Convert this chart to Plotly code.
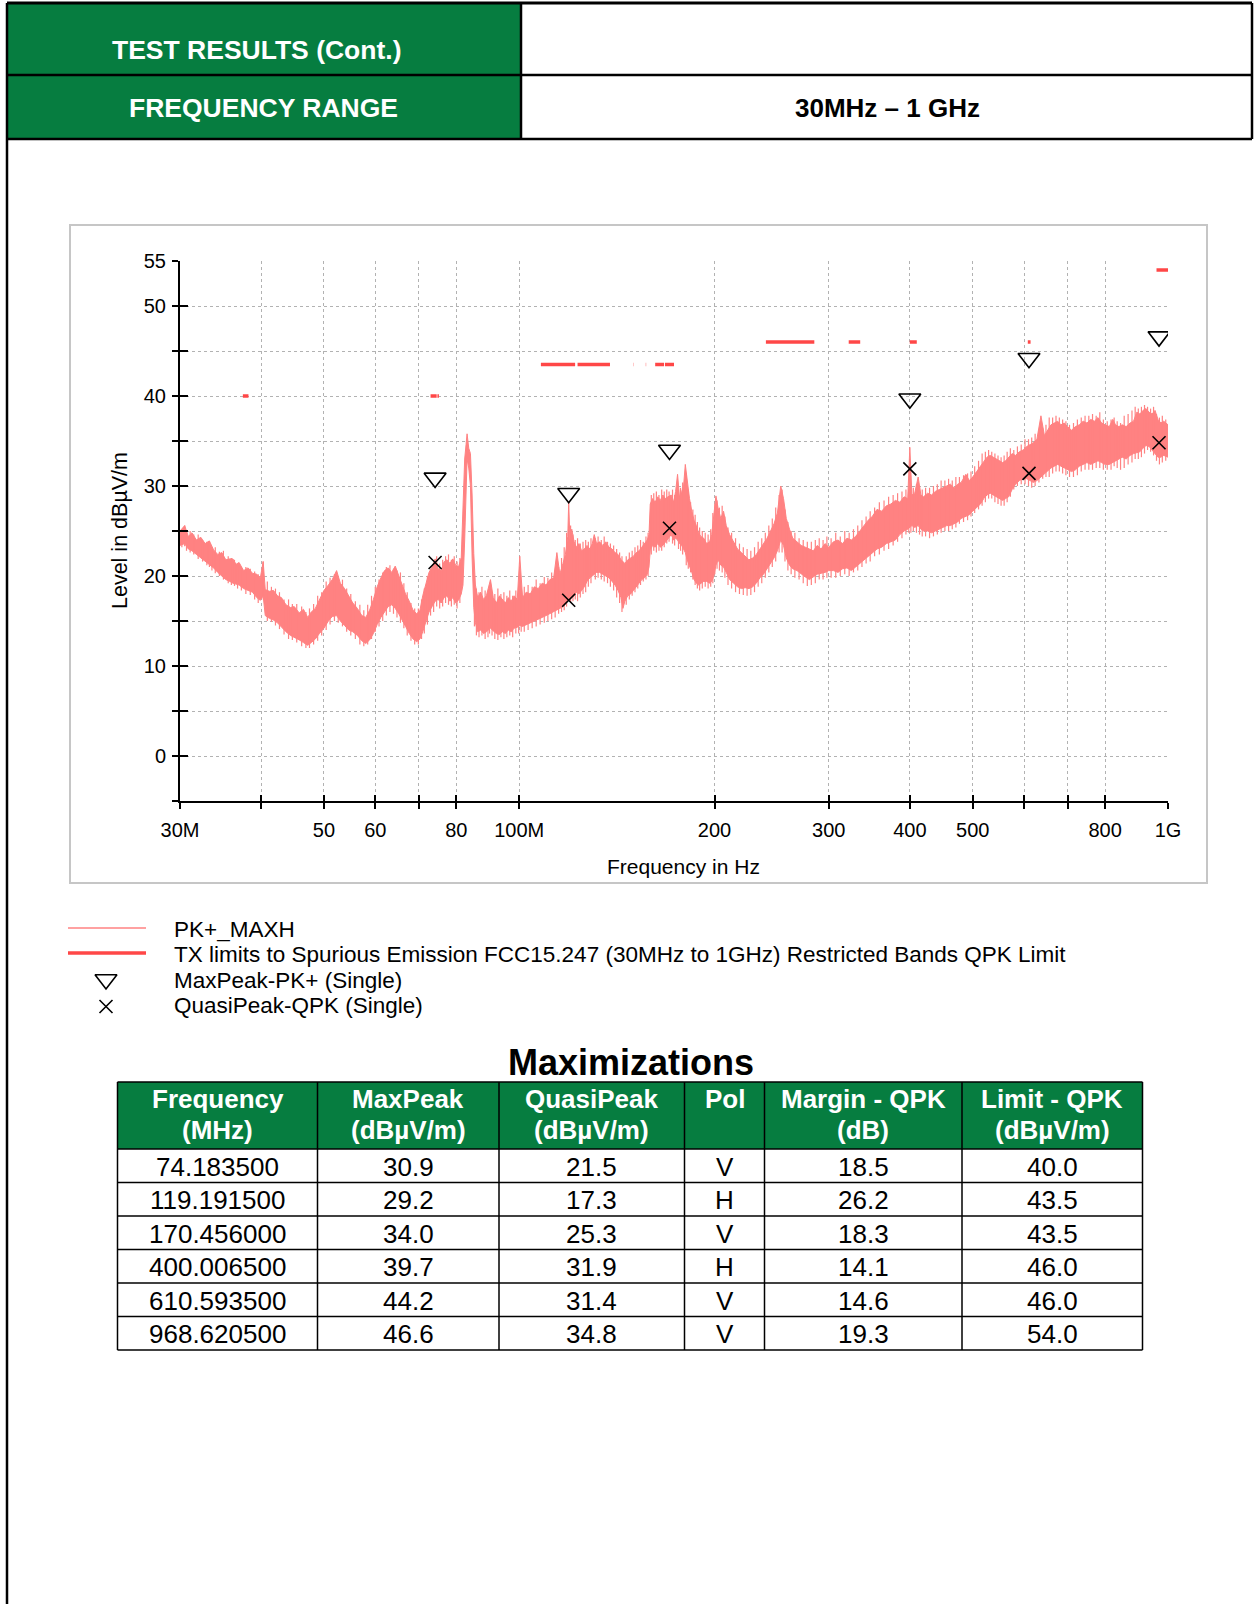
import math
import plotly.graph_objects as go

W, H = 1254, 1604

# ---------------- data ----------------
# PK+_MAXH spectrum envelope (MHz, upper level, lower level in dBuV/m)
pk_freq = [30.0, 30.5, 30.9, 31.3, 31.8, 32.3, 32.8, 33.3, 33.8, 34.3, 34.8, 35.3, 35.8, 36.2, 36.6, 37.0,
           37.6, 38.2, 38.8, 39.4, 39.9, 40.3, 40.6, 41.2, 41.8, 42.4, 43.0, 43.7, 44.4, 45.0, 45.8, 46.5,
           47.2, 47.8, 48.5, 49.2, 50.0, 50.8, 51.5, 52.3, 53.0, 53.8, 54.6, 55.4, 56.3, 57.2, 58.0, 58.8,
           59.6, 60.4, 61.2, 62.0, 62.8, 63.6, 64.4, 65.2, 66.0, 66.8, 67.7, 68.6, 69.5, 70.3, 71.0, 71.8,
           72.6, 73.4, 74.2, 75.0, 75.8, 76.6, 77.4, 78.2, 79.0, 79.8, 80.6, 81.4, 81.9, 82.4, 82.8, 83.1,
           83.6, 84.1, 84.6, 85.1, 85.6, 86.3, 87.2, 88.1, 89.0, 90.3, 91.2, 92.2, 93.2, 94.2, 95.2, 96.2,
           97.2, 98.2, 99.3, 100.2, 101.2, 102.5, 104.0, 105.5, 107.0, 108.5, 110.0, 111.5, 113.0, 114.3,
           115.5, 116.8, 117.8, 118.8, 119.2, 119.7, 120.5, 121.5, 122.5, 123.6, 124.8, 126.0, 127.2, 128.5,
           129.6, 130.5, 131.6, 133.0, 134.5, 136.0, 137.5, 139.0, 140.5, 142.0, 143.5, 144.5, 145.5, 147.0,
           148.5, 150.0, 151.5, 153.0, 154.5, 156.0, 157.5, 158.5, 159.2, 160.5, 162.0, 163.5, 165.0, 166.5,
           168.0, 169.5, 171.5, 173.0, 174.2, 175.4, 176.6, 178.0, 179.2, 180.3, 181.5, 183.0, 184.5, 186.0,
           187.5, 189.0, 190.5, 192.5, 194.5, 196.5, 198.0, 199.5, 201.0, 202.5, 204.5, 206.5, 208.5, 211.0,
           214.0, 217.0, 220.0, 223.0, 226.0, 229.0, 232.0, 235.0, 238.0, 241.0, 244.0, 247.0, 250.0, 253.0,
           255.5, 258.0, 261.0, 264.0, 268.0, 272.0, 276.0, 280.0, 284.0, 288.0, 292.0, 296.0, 300.0, 305.0,
           310.0, 315.0, 320.0, 325.0, 330.0, 335.0, 340.0, 345.0, 350.0, 356.0, 362.0, 368.0, 374.0, 380.0,
           386.0, 392.0, 397.0, 400.0, 403.0, 407.0, 412.0, 416.0, 420.0, 426.0, 432.0, 438.0, 444.0, 450.0,
           456.0, 462.0, 468.0, 474.0, 480.0, 488.0, 494.0, 500.0, 507.0, 514.0, 520.0, 526.0, 532.0, 538.0,
           544.0, 550.0, 556.0, 562.0, 568.0, 575.0, 582.0, 590.0, 598.0, 606.0, 613.0, 620.0, 628.0, 637.0,
           645.0, 652.0, 660.0, 668.0, 676.0, 684.0, 692.0, 700.0, 710.0, 720.0, 730.0, 740.0, 750.0, 760.0,
           770.0, 780.0, 790.0, 800.0, 812.0, 822.0, 830.0, 840.0, 850.0, 862.0, 874.0, 885.0, 895.0, 905.0,
           915.0, 925.0, 935.0, 945.0, 955.0, 965.0, 975.0, 985.0, 1000.0]
pk_hi = [25.0, 25.6, 24.4, 24.8, 24.0, 24.3, 23.6, 23.9, 22.9, 22.4, 22.6, 21.8, 21.9, 21.9, 21.3, 21.5,
         20.6, 20.9, 20.3, 20.2, 19.8, 21.6, 18.5, 18.3, 18.4, 17.8, 17.6, 16.8, 16.5, 16.6, 15.9, 16.3,
         15.4, 16.0, 16.4, 17.4, 18.4, 19.0, 19.6, 20.6, 19.2, 18.6, 17.8, 17.0, 16.4, 15.6, 15.4, 16.2,
         17.4, 18.8, 19.8, 20.6, 20.9, 20.4, 21.1, 20.0, 18.9, 18.0, 17.2, 16.2, 15.8, 16.2, 17.8, 19.2,
         20.4, 21.0, 21.9, 20.8, 20.6, 21.6, 21.8, 21.4, 21.9, 21.2, 21.0, 22.0, 27.0, 33.0, 34.6, 35.8,
         34.2, 33.6, 29.0, 22.5, 19.0, 17.6, 18.2, 17.4, 17.8, 19.6, 17.6, 17.0, 17.8, 17.4, 17.0, 17.6,
         17.2, 17.8, 17.4, 22.2, 17.6, 18.2, 18.0, 18.8, 18.6, 19.2, 19.0, 19.6, 19.8, 22.6,
         20.2, 21.4, 22.4, 24.4, 28.2, 24.0, 25.2, 23.8, 23.2, 23.6, 22.8, 23.0, 23.4, 23.0,
         23.6, 24.6, 23.6, 23.8, 23.4, 23.8, 23.2, 23.0, 22.6, 22.4, 21.8, 21.6, 21.4, 21.8,
         22.0, 22.2, 22.6, 22.8, 23.2, 23.6, 24.0, 24.6, 28.0, 28.6, 28.2, 28.8, 28.4, 29.0,
         28.6, 28.8, 29.0, 28.2, 29.4, 31.3, 28.8, 29.4, 30.0, 32.4, 30.6, 28.6, 27.2, 26.2,
         25.6, 24.8, 24.4, 24.2, 23.6, 23.8, 24.6, 26.6, 28.9, 27.6, 26.4, 27.2, 25.6, 24.6,
         23.8, 23.0, 22.6, 22.2, 21.8, 22.0, 22.4, 23.0, 23.6, 24.2, 25.0, 25.8, 27.0, 30.0,
         28.6, 26.4, 25.2, 24.2, 23.8, 23.4, 23.2, 23.0, 22.8, 23.4, 23.0, 23.6, 23.2, 23.8,
         24.0, 23.6, 24.2, 24.0, 24.4, 25.0, 25.6, 26.2, 26.6, 27.4, 27.2, 27.8, 28.0, 28.4,
         28.2, 28.8, 28.6, 34.3, 29.0, 29.2, 31.0, 29.0, 28.8, 29.2, 29.0, 29.4, 29.6, 29.8,
         30.0, 30.2, 29.8, 30.2, 30.4, 31.3, 30.6, 31.0, 31.6, 32.2, 32.8, 33.2, 33.4, 33.2,
         33.0, 32.8, 32.6, 32.8, 33.2, 33.6, 33.4, 33.8, 34.0, 34.4, 34.6, 34.8, 35.2, 37.8,
         35.6, 36.2, 36.8, 37.0, 37.2, 36.8, 37.0, 36.6, 36.2, 36.6, 36.8, 37.2, 37.0, 37.4,
         37.2, 37.6, 37.0, 36.8, 36.6, 37.4, 36.8, 36.6, 36.8, 36.6, 37.0, 37.2, 38.2, 38.0,
         38.4, 38.6, 38.2, 38.0, 38.4, 37.4, 37.0, 37.2, 36.8]
pk_lo = [23.4, 23.6, 23.0, 22.8, 22.4, 22.0, 21.6, 21.2, 20.9, 20.4, 20.0, 19.6, 19.4, 19.2, 19.1, 19.0,
         18.6, 18.4, 18.2, 17.6, 17.3, 17.8, 15.6, 15.3, 15.1, 14.8, 14.3, 13.8, 13.4, 13.2, 12.9, 12.6,
         12.3, 12.6, 13.0, 13.6, 14.2, 15.0, 15.5, 15.6, 15.0, 14.5, 14.0, 13.8, 13.4, 12.8, 12.5, 12.9,
         13.6, 14.6, 15.4, 16.0, 16.6, 16.8, 16.4, 15.8, 15.0, 14.4, 13.6, 13.0, 12.7, 13.0, 13.8, 14.8,
         16.0, 16.6, 17.2, 17.4, 17.0, 17.6, 17.8, 17.2, 17.6, 17.0, 17.3, 18.0, 19.0, 24.0, 31.0, 33.0,
         32.0, 30.0, 22.0, 16.5, 14.8, 13.8, 14.0, 13.6, 13.8, 14.2, 13.9, 13.6, 13.5, 13.8, 13.6, 14.0,
         13.8, 14.2, 14.3, 14.5, 14.4, 14.6, 14.8, 15.0, 15.2, 15.4, 15.6, 15.8, 16.0, 16.2,
         16.4, 16.6, 16.9, 17.2, 17.4, 17.5, 17.6, 17.8, 18.2, 18.0, 18.4, 18.8, 19.4, 19.8,
         20.0, 20.2, 20.4, 20.4, 20.2, 20.0, 19.8, 19.4, 19.0, 18.4, 17.6, 16.4, 17.2, 17.8,
         18.0, 18.4, 18.8, 19.2, 19.6, 19.8, 20.2, 21.0, 22.8, 23.4, 23.2, 23.6, 23.2, 23.4,
         23.8, 24.2, 24.6, 24.0, 24.2, 24.0, 23.6, 23.4, 23.0, 22.6, 21.8, 21.2, 20.4, 19.6,
         19.2, 19.0, 19.2, 19.4, 19.4, 19.2, 19.4, 20.0, 21.2, 21.8, 21.2, 21.0, 20.4, 19.6,
         19.2, 18.8, 18.6, 18.7, 18.6, 18.8, 19.2, 19.8, 20.2, 20.8, 21.4, 22.0, 22.8, 24.0,
         23.4, 22.0, 21.2, 20.8, 20.6, 20.2, 19.9, 19.6, 19.9, 20.2, 20.3, 20.4, 20.6, 20.6,
         20.4, 20.8, 20.9, 20.6, 21.0, 21.4, 21.8, 22.2, 22.6, 23.0, 23.2, 23.6, 23.8, 24.0,
         24.6, 25.0, 25.2, 25.4, 25.6, 25.4, 25.6, 25.2, 25.0, 25.0, 24.8, 25.0, 25.2, 25.4,
         25.6, 25.6, 25.8, 26.0, 26.4, 26.6, 26.8, 27.2, 27.6, 28.0, 28.6, 29.0, 29.2, 29.0,
         28.8, 28.6, 28.4, 28.6, 28.8, 29.6, 30.2, 30.6, 30.8, 30.8, 30.6, 30.4, 30.6, 31.0,
         31.4, 31.6, 32.0, 32.2, 32.4, 32.2, 32.0, 31.8, 31.6, 31.8, 32.2, 32.4, 32.6, 32.4,
         32.6, 32.8, 32.6, 32.4, 32.4, 32.6, 32.8, 33.0, 33.2, 33.0, 33.4, 33.6, 33.7, 33.8,
         34.2, 34.5, 34.4, 34.0, 33.6, 33.2, 33.2, 33.4, 33.2]

# individual noise excursions of the PK+ trace (MHz, low dBuV/m, high dBuV/m)
noise_freq = [30.2, 30.5, 30.7, 31.1, 31.5, 32.0, 32.5, 33.0, 33.3, 33.6, 34.0, 34.5, 35.0, 35.6, 36.0, 36.4,
              36.8, 37.3, 37.9, 38.5, 39.1, 39.6, 40.3, 40.9, 41.5, 42.1, 42.7, 43.4, 44.1, 44.7, 45.4, 46.2,
              46.9, 47.5, 48.2, 48.9, 49.6, 50.4, 51.1, 51.9, 52.6, 53.4, 54.2, 55.0, 55.9, 56.8, 57.6, 58.4,
              59.2, 60.0, 60.8, 61.6, 62.4, 63.2, 64.0, 64.8, 65.6, 66.4, 67.2, 68.1, 69.0, 69.9, 70.7, 71.4,
              72.2, 73.0, 73.8, 74.6, 75.4, 76.2, 77.0, 77.8, 78.6, 79.4, 80.2, 81.0, 85.3, 85.9, 86.7, 87.6,
              88.6, 89.5, 90.0, 90.8, 91.7, 92.7, 93.7, 94.7, 95.7, 96.7, 97.7, 98.8, 99.8, 100.7, 101.8, 103.2,
              104.7, 106.2, 107.7, 109.3, 110.7, 112.2, 113.6, 115.0, 116.2, 117.3, 118.3, 120.0, 121.0, 122.0,
              123.0, 124.2, 125.4, 126.6, 127.8, 129.0, 131.0, 132.3, 133.8, 135.2, 136.8, 138.2, 139.8, 141.3,
              142.8, 144.0, 146.2, 147.8, 149.3, 150.8, 152.3, 153.8, 155.3, 156.8, 158.0, 159.8, 161.2, 162.7,
              164.2, 165.8, 167.3, 168.8, 170.2, 172.3, 173.6, 176.0, 177.3, 178.6, 180.9, 182.2, 183.7, 185.2,
              186.7, 188.2, 189.7, 191.5, 193.5, 195.5, 197.3, 198.8, 200.2, 201.8, 203.5, 205.5, 207.5, 209.8,
              212.5, 215.5, 218.5, 221.5, 224.5, 227.5, 230.5, 233.5, 236.5, 239.5, 242.5, 245.5, 248.5, 251.5,
              254.2, 256.8, 259.5, 262.5, 266.0, 270.0, 274.0, 278.0, 282.0, 286.0, 290.0, 294.0, 298.0, 302.5,
              307.5, 312.5, 317.5, 322.5, 327.5, 332.5, 337.5, 342.5, 347.5, 353.0, 359.0, 365.0, 371.0, 377.0,
              383.0, 389.0, 394.5, 398.5, 401.5, 405.0, 409.5, 414.0, 418.0, 423.0, 429.0, 435.0, 441.0, 447.0,
              453.0, 459.0, 465.0, 471.0, 477.0, 484.0, 491.0, 497.0, 503.5, 510.5, 517.0, 523.0, 529.0, 535.0,
              541.0, 547.0, 553.0, 559.0, 565.0, 571.5, 578.5, 586.0, 594.0, 602.0, 609.5, 616.5, 624.0, 632.5,
              641.0, 648.5, 656.0, 664.0, 672.0, 680.0, 688.0, 696.0, 705.0, 715.0, 725.0, 735.0, 745.0, 755.0,
              765.0, 775.0, 785.0, 795.0, 806.0, 817.0, 826.0, 835.0, 845.0, 856.0, 868.0, 880.0, 890.0, 900.0,
              910.0, 920.0, 930.0, 940.0, 950.0, 960.0, 970.0, 980.0, 992.0]
noise_lo = [23.2, 23.3, 22.8, 22.6, 22.4, 21.9, 21.6, 21.2, 21.0, 20.6, 20.3, 20.0, 19.6, 19.2, 19.0, 18.9,
            18.6, 18.4, 18.0, 17.9, 17.4, 17.0, 17.4, 15.0, 14.9, 14.5, 14.1, 13.5, 13.0, 12.9, 12.6, 12.2,
            12.0, 12.0, 12.4, 12.8, 13.4, 14.0, 14.6, 15.0, 14.8, 14.4, 13.8, 13.4, 13.0, 12.4, 12.2, 12.4,
            13.0, 13.8, 14.4, 15.0, 15.6, 16.0, 15.8, 15.4, 14.8, 14.2, 13.4, 12.8, 12.4, 12.4, 13.0, 13.6,
            14.6, 15.6, 16.0, 16.6, 16.4, 16.6, 17.0, 16.8, 16.6, 16.8, 16.4, 17.0, 14.4, 13.4, 13.2, 13.4,
            13.0, 13.2, 13.6, 13.4, 13.0, 12.9, 13.2, 13.0, 13.2, 13.4, 13.2, 13.6, 13.6, 13.8, 13.8, 14.0,
            14.2, 14.4, 14.6, 14.8, 15.0, 15.2, 15.4, 15.8, 16.0, 16.2, 16.6, 17.0, 17.2, 17.4,
            17.2, 17.6, 18.0, 18.2, 18.8, 19.2, 19.6, 19.8, 19.6, 19.4, 19.2, 18.8, 18.4, 17.6,
            17.0, 16.0, 16.8, 17.4, 17.8, 18.2, 18.6, 19.0, 19.4, 19.6, 20.0, 22.4, 22.8, 22.6,
            22.8, 22.8, 23.2, 23.6, 23.8, 23.6, 23.4, 23.0, 22.8, 22.4, 21.2, 20.8, 20.4, 19.6,
            19.0, 18.6, 18.4, 18.6, 18.8, 18.6, 18.8, 19.2, 20.2, 20.8, 20.6, 20.4, 19.8, 19.0,
            18.6, 18.2, 18.0, 17.9, 17.8, 17.9, 18.2, 18.8, 19.2, 19.8, 20.4, 21.0, 21.6, 22.6,
            22.6, 21.6, 20.6, 20.2, 19.8, 19.6, 19.2, 18.9, 19.0, 19.2, 19.6, 19.6, 19.8, 19.8,
            19.8, 20.0, 20.2, 20.0, 20.4, 20.6, 21.0, 21.4, 21.6, 22.2, 22.4, 22.8, 23.0, 23.4,
            23.8, 24.2, 24.6, 24.8, 24.8, 25.0, 24.8, 24.6, 24.4, 24.4, 24.2, 24.4, 24.6, 24.8,
            25.0, 25.0, 25.2, 25.4, 25.8, 26.0, 26.2, 26.6, 27.0, 27.4, 27.8, 28.2, 28.6, 28.6,
            28.2, 28.0, 27.8, 27.8, 28.2, 28.8, 29.6, 30.0, 30.2, 30.2, 30.0, 29.8, 30.0, 30.4,
            30.8, 31.0, 31.0, 31.4, 31.6, 31.6, 31.4, 31.2, 31.0, 31.0, 31.2, 31.6, 31.8, 31.8,
            31.8, 32.0, 32.0, 31.8, 31.8, 31.8, 32.2, 32.0, 31.8, 32.0, 32.4, 32.6, 33.0, 33.0,
            33.2, 33.6, 34.0, 33.8, 33.4, 32.8, 32.4, 32.6, 32.8]
noise_hi = [25.2, 25.6, 24.9, 25.0, 24.6, 24.6, 24.0, 23.8, 23.9, 23.2, 23.2, 22.7, 22.8, 22.2, 22.0, 21.8,
            21.2, 21.0, 21.0, 20.8, 20.5, 20.2, 21.6, 19.4, 18.8, 18.6, 18.2, 17.4, 17.4, 16.9, 16.9, 16.6,
            16.0, 16.4, 16.9, 17.8, 18.2, 19.4, 19.8, 20.2, 19.8, 19.6, 18.6, 18.0, 17.2, 16.8, 16.2, 16.8,
            17.8, 18.8, 19.6, 20.4, 21.0, 21.2, 20.8, 20.6, 20.4, 19.2, 18.2, 17.0, 16.4, 16.4, 17.4, 18.6,
            20.0, 20.8, 21.4, 22.2, 21.4, 21.8, 22.2, 22.4, 21.8, 22.2, 21.6, 22.0, 18.8, 18.6, 18.2, 18.8,
            18.4, 18.2, 19.0, 18.2, 18.0, 18.6, 18.0, 18.2, 17.8, 18.4, 17.8, 18.4, 18.0, 18.2, 18.8, 19.0,
            18.8, 19.6, 19.2, 19.9, 19.8, 20.4, 20.6, 21.0, 22.0, 23.2, 24.8, 25.6, 24.6, 24.0,
            24.2, 23.6, 23.8, 24.0, 23.8, 24.2, 24.2, 24.4, 24.0, 24.4, 23.8, 23.6, 23.4, 23.0,
            22.6, 22.2, 22.2, 22.6, 22.8, 23.2, 23.4, 24.0, 23.8, 24.4, 24.8, 29.0, 29.2, 29.4,
            29.0, 29.6, 29.4, 29.6, 29.4, 29.6, 29.0, 29.6, 29.8, 30.4, 31.4, 29.6, 28.2, 27.4,
            26.8, 26.0, 25.4, 25.0, 24.8, 24.6, 25.2, 27.0, 28.0, 28.4, 27.6, 27.8, 26.6, 25.4,
            24.8, 24.2, 23.6, 23.2, 23.0, 22.8, 23.2, 23.8, 24.2, 24.8, 25.6, 26.4, 27.6, 29.0,
            29.6, 27.4, 26.0, 25.0, 24.8, 24.2, 24.0, 23.8, 23.8, 24.0, 24.2, 24.0, 24.4, 24.2,
            24.8, 24.4, 25.0, 24.8, 25.2, 25.6, 26.2, 26.6, 27.2, 27.6, 28.2, 28.4, 28.8, 29.0,
            29.2, 29.4, 29.6, 29.6, 30.0, 29.8, 30.2, 30.0, 29.6, 29.8, 29.8, 30.0, 30.2, 30.6,
            30.6, 30.8, 30.6, 31.0, 31.0, 31.2, 31.4, 31.6, 32.2, 32.8, 33.6, 33.8, 34.0, 33.8,
            33.6, 33.4, 33.2, 33.4, 33.8, 34.2, 34.0, 34.4, 34.6, 35.2, 35.2, 35.4, 35.8, 36.2,
            36.4, 36.8, 37.6, 37.6, 37.8, 37.6, 37.4, 37.2, 36.8, 37.0, 37.4, 37.6, 37.8, 37.8,
            38.0, 37.8, 38.2, 37.4, 37.2, 37.4, 37.6, 37.2, 37.0, 37.8, 38.0, 38.4, 38.8, 38.6,
            38.8, 39.0, 38.8, 38.6, 38.8, 38.0, 37.6, 37.8, 37.4]

# restricted-band QPK limit segments (MHz, MHz, dBuV/m)
band_start = [37.5, 73.0, 74.8, 108.0, 123.0, 149.9, 156.52475, 156.7, 162.0125, 167.72, 240.0, 322.0, 399.9, 608.0, 960.0]
band_end = [38.25, 74.6, 75.2, 121.94, 138.0, 150.05, 156.52525, 156.9, 167.17, 173.2, 285.0, 335.4, 410.0, 614.0, 1000.0]
band_limit = [40.0, 40.0, 40.0, 43.5, 43.5, 43.5, 43.5, 43.5, 43.5, 43.5, 46.0, 46.0, 46.0, 46.0, 54.0]

# maximizations table
max_freq = [74.1835, 119.1915, 170.456, 400.0065, 610.5935, 968.6205]
max_peak = [30.9, 29.2, 34.0, 39.7, 44.2, 46.6]
quasi_peak = [21.5, 17.3, 25.3, 31.9, 31.4, 34.8]
pol = ["V", "H", "V", "H", "V", "V"]
margin_qpk = [18.5, 26.2, 18.3, 14.1, 14.6, 19.3]
limit_qpk = [40.0, 43.5, 43.5, 46.0, 46.0, 54.0]

xtick_vals = [30, 40, 50, 60, 70, 80, 100, 200, 300, 400, 500, 600, 700, 800, 1000]
xtick_text = ["30M", "", "50", "60", "", "80", "100M", "200", "300", "400", "500", "", "", "800", "1G"]
ytick_vals = [-5, 0, 5, 10, 15, 20, 25, 30, 35, 40, 45, 50, 55]
ytick_text = ["", "0", "", "10", "", "20", "", "30", "", "40", "", "50", "55"]

header_l1 = ["Frequency", "MaxPeak", "QuasiPeak", "Pol", "Margin - QPK", "Limit - QPK"]
header_l2 = ["(MHz)", "(dBµV/m)", "(dBµV/m)", "", "(dB)", "(dBµV/m)"]

legend_names = ["PK+_MAXH",
                "TX limits to Spurious Emission FCC15.247 (30MHz to 1GHz) Restricted Bands QPK Limit",
                "MaxPeak-PK+ (Single)",
                "QuasiPeak-QPK (Single)"]

# ---------------- styling ----------------
GREEN = "#067D40"
PK_COLOR = "#FF8282"
LIM_COLOR = "#FF4747"
FONT = "Liberation Sans, Arial, sans-serif"

def X(p):
    return p / W

def Y(p):
    return 1 - p / H

# plot-area geometry (pixels)
PL, PR, PT, PB = 180, 1168, 261, 801

fig = go.Figure()

# spectrum as a filled envelope
fig.add_trace(go.Scatter(x=pk_freq, y=pk_lo, mode="lines", line=dict(color=PK_COLOR, width=1),
                         showlegend=False, hoverinfo="skip"))
fig.add_trace(go.Scatter(x=pk_freq, y=pk_hi, mode="lines", line=dict(color=PK_COLOR, width=1),
                         fill="tonexty", fillcolor=PK_COLOR, name=legend_names[0], showlegend=False))
# noise excursions as thin vertical strokes
nx, ny = [], []
for f, lo, hi in zip(noise_freq, noise_lo, noise_hi):
    nx += [f, f, None]
    ny += [lo, hi, None]
fig.add_trace(go.Scatter(x=nx, y=ny, mode="lines", line=dict(color=PK_COLOR, width=1.2),
                         connectgaps=False, showlegend=False, hoverinfo="skip"))

# limit segments
lx, ly = [], []
for s, e, v in zip(band_start, band_end, band_limit):
    lx += [s, e, None]
    ly += [v, v, None]
fig.add_trace(go.Scatter(x=lx, y=ly, mode="lines", line=dict(color=LIM_COLOR, width=3.5),
                         connectgaps=False, name=legend_names[1], showlegend=False))

# markers
fig.add_trace(go.Scatter(x=max_freq, y=max_peak, mode="markers", name=legend_names[2],
                         marker=dict(symbol="triangle-down-open", size=19, color="black",
                                     line=dict(width=1.6, color="black")), showlegend=False))
fig.add_trace(go.Scatter(x=max_freq, y=quasi_peak, mode="markers", name=legend_names[3],
                         marker=dict(symbol="x-thin-open", size=13, color="black",
                                     line=dict(width=1.6, color="black")), showlegend=False))

# empty trace to activate the inside-tick overlay axes
fig.add_trace(go.Scatter(x=[], y=[], xaxis="x2", yaxis="y2", showlegend=False))

# legend samples on a pixel-space helper axis
leg_x0, leg_x1, leg_sym_x = 68, 146, 106
leg_y = [928, 953, 979.5, 1006.5]
fig.add_trace(go.Scatter(x=[leg_x0, leg_x1], y=[leg_y[0]] * 2, mode="lines", xaxis="x3", yaxis="y3",
                         line=dict(color=PK_COLOR, width=1.5), showlegend=False, hoverinfo="skip"))
fig.add_trace(go.Scatter(x=[leg_x0, leg_x1], y=[leg_y[1]] * 2, mode="lines", xaxis="x3", yaxis="y3",
                         line=dict(color=LIM_COLOR, width=3.5), showlegend=False, hoverinfo="skip"))
fig.add_trace(go.Scatter(x=[leg_sym_x], y=[leg_y[2]], mode="markers", xaxis="x3", yaxis="y3",
                         marker=dict(symbol="triangle-down-open", size=19, color="black",
                                     line=dict(width=1.6, color="black")), showlegend=False, hoverinfo="skip"))
fig.add_trace(go.Scatter(x=[leg_sym_x], y=[leg_y[3]], mode="markers", xaxis="x3", yaxis="y3",
                         marker=dict(symbol="x-thin-open", size=13, color="black",
                                     line=dict(width=1.6, color="black")), showlegend=False, hoverinfo="skip"))

xr = [math.log10(30), math.log10(1000)]
xdom = [X(PL), X(PR)]
ydom = [Y(PB), Y(PT)]
tickfont = dict(family=FONT, size=20, color="black")

fig.update_layout(
    width=W, height=H, margin=dict(l=0, r=0, t=0, b=0),
    paper_bgcolor="white", plot_bgcolor="rgba(0,0,0,0)", showlegend=False,
    xaxis=dict(type="log", range=xr, domain=xdom, anchor="y", tickmode="array",
               tickvals=xtick_vals, ticktext=xtick_text, ticks="outside", ticklen=6, tickwidth=1.5,
               tickcolor="black", showline=True, linecolor="black", linewidth=2,
               showgrid=True, gridcolor="#B2B2B2", griddash="dot", gridwidth=1,
               zeroline=False, tickfont=tickfont, ticklabelstandoff=4, automargin=False),
    yaxis=dict(range=[-5, 55], domain=ydom, anchor="x", tickmode="array",
               tickvals=ytick_vals, ticktext=ytick_text, ticks="outside", ticklen=6, tickwidth=1.5,
               tickcolor="black", showline=True, linecolor="black", linewidth=2,
               showgrid=True, gridcolor="#B2B2B2", griddash="dot", gridwidth=1,
               zeroline=False, tickfont=tickfont, ticklabelstandoff=2, automargin=False),
    xaxis2=dict(type="log", range=xr, domain=xdom, anchor="y2", overlaying="x", tickmode="array",
                tickvals=xtick_vals, ticks="inside", ticklen=6, tickwidth=1.5, tickcolor="black",
                showticklabels=False, showgrid=False, showline=False, zeroline=False, automargin=False),
    yaxis2=dict(range=[-5, 55], domain=ydom, anchor="x2", overlaying="y", tickmode="array",
                tickvals=ytick_vals, ticks="inside", ticklen=8, tickwidth=1.5, tickcolor="black",
                showticklabels=False, showgrid=False, showline=False, zeroline=False, automargin=False),
    xaxis3=dict(range=[0, W], domain=[0, 1], anchor="y3", visible=False, fixedrange=True),
    yaxis3=dict(range=[H, 0], domain=[0, 1], anchor="x3", visible=False, fixedrange=True),
)

shapes = []
ann = []

def line(x0, y0, x1, y1, color="black", width=2.5):
    shapes.append(dict(type="line", xref="paper", yref="paper", x0=X(x0), y0=Y(y0), x1=X(x1), y1=Y(y1),
                       line=dict(color=color, width=width)))

def rect(x0, y0, x1, y1, fill=None, color=None, width=0):
    shapes.append(dict(type="rect", xref="paper", yref="paper", x0=X(x0), y0=Y(y0), x1=X(x1), y1=Y(y1),
                       fillcolor=fill if fill else "rgba(0,0,0,0)",
                       line=dict(color=color if color else "rgba(0,0,0,0)", width=width), layer="below"))

def text(x, y, s, size, color="black", bold=False, xanchor="center", angle=0):
    ann.append(dict(xref="paper", yref="paper", x=X(x), y=Y(y), text=("<b>%s</b>" % s) if bold else s,
                    showarrow=False, xanchor=xanchor, yanchor="middle", textangle=angle,
                    font=dict(family=FONT, size=size, color=color)))

# page header
rect(7, 3, 521, 139, fill=GREEN)
line(7, 3, 1252, 3, width=3)
line(7, 75, 1252, 75)
line(7, 139, 1252, 139)
line(7, 3, 7, H)
line(521, 3, 521, 139)
line(1252, 3, 1252, 139)
text(257, 50, "TEST RESULTS (Cont.)", 26.5, "white", True)
text(263, 108, "FREQUENCY RANGE", 26.5, "white", True)
text(887, 108, "30MHz – 1 GHz", 26, "black", True)

# chart frame
rect(70, 225, 1207, 883, color="#C6C6C6", width=2)

# axis titles
text(120, 531, "Level in dBµV/m", 21.5, angle=-90)
text(683, 867, "Frequency in Hz", 21)

# legend text
for name, yy in zip(legend_names, [929, 954, 980, 1006]):
    text(172, yy, name, 22.5, xanchor="left")

# maximizations table
text(631, 1062, "Maximizations", 36, bold=True)
col_edges = [117.5, 317.5, 499, 684.5, 764.5, 962, 1142.5]
t_top, head_h, row_h = 1082, 67, 33.5
n_rows = len(max_freq)
t_bot = t_top + head_h + n_rows * row_h
rect(col_edges[0], t_top, col_edges[-1], t_top + head_h, fill=GREEN)
for i in range(n_rows + 2):
    yy = t_top if i == 0 else t_top + head_h + (i - 1) * row_h
    line(col_edges[0], yy, col_edges[-1], yy, width=1.5)
for xx in col_edges:
    line(xx, t_top, xx, t_bot, width=1.5)

rows = [["%.6f" % f for f in max_freq], ["%.1f" % v for v in max_peak], ["%.1f" % v for v in quasi_peak],
        pol, ["%.1f" % v for v in margin_qpk], ["%.1f" % v for v in limit_qpk]]
for c in range(6):
    cx = (col_edges[c] + col_edges[c + 1]) / 2
    text(cx, t_top + 17, header_l1[c], 26, "white", True)
    if header_l2[c]:
        text(cx, t_top + 48, header_l2[c], 26, "white", True)
    for r in range(n_rows):
        cy = t_top + head_h + r * row_h + row_h / 2
        text(cx, cy + 1, rows[c][r], 26)

fig.update_layout(shapes=shapes, annotations=ann)
fig.write_html("out.html")
